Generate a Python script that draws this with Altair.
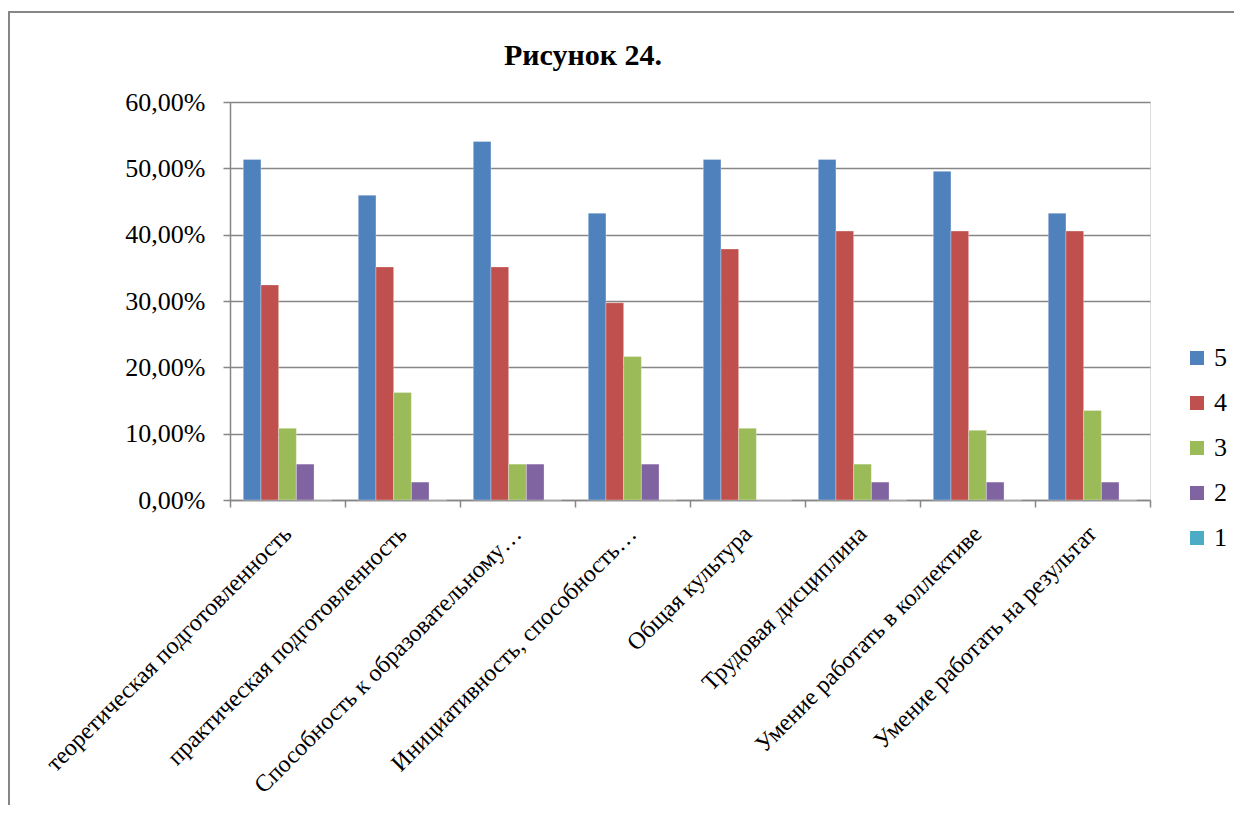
import altair as alt
import pandas as pd

title_text = "Рисунок 24."
categories = [
    "теоретическая подготовленность",
    "практическая подготовленность",
    "Способность к образовательному…",
    "Инициативность, способность…",
    "Общая культура",
    "Трудовая дисциплина",
    "Умение работать в коллективе",
    "Умение работать на результат",
]
series_names = ["5", "4", "3", "2", "1"]
s5 = [0.5135, 0.4595, 0.5405, 0.4324, 0.5135, 0.5135, 0.4955, 0.4324]
s4 = [0.3243, 0.3514, 0.3514, 0.2973, 0.3784, 0.4054, 0.4054, 0.4054]
s3 = [0.1081, 0.1622, 0.0541, 0.2162, 0.1081, 0.0541, 0.1050, 0.1351]
s2 = [0.0541, 0.0270, 0.0541, 0.0541, 0.0, 0.0270, 0.0270, 0.0270]
s1 = [0.0, 0.0, 0.0, 0.0, 0.0, 0.0, 0.0, 0.0]
y_ticks = [0, 0.1, 0.2, 0.3, 0.4, 0.5, 0.6]
colors = ["#4F81BD", "#C0504D", "#9BBB59", "#8064A2", "#4BACC6"]

rows = []
for name, vals in zip(series_names, [s5, s4, s3, s2, s1]):
    for c, v in zip(categories, vals):
        rows.append({"category": c, "series": name, "value": v})
df = pd.DataFrame(rows)

FONT = "Liberation Serif"
GRAY = "#868686"
FS = 26

bars = alt.Chart(df).mark_bar(stroke="white", strokeWidth=0.5, strokeOpacity=0.6).encode(
    x=alt.X("category:N", sort=categories, title=None,
            scale=alt.Scale(paddingInner=0, paddingOuter=0),
            axis=alt.Axis(labelAngle=-45, labelAlign="right", labelBaseline="middle",
                          labelFont=FONT, labelFontSize=24, labelColor="black",
                          labelPadding=23, labelLimit=0,
                          tickBand="extent", ticks=True, tickSize=7, tickColor=GRAY,
                          tickWidth=1.5, domainColor=GRAY, domainWidth=1.5, grid=False)),
    xOffset=alt.XOffset("series:N", sort=series_names,
                        scale=alt.Scale(paddingInner=0, paddingOuter=0.75)),
    y=alt.Y("value:Q", title=None,
            scale=alt.Scale(domain=[0, 0.6], nice=False),
            axis=alt.Axis(values=y_ticks,
                          labelExpr="replace(format(datum.value, '.2%'), '.', ',')",
                          labelFont=FONT, labelFontSize=FS, labelColor="black",
                          labelPadding=18, tickSize=7, tickColor=GRAY, tickWidth=1.5,
                          domainColor=GRAY, domainWidth=1.5,
                          grid=True, gridColor=GRAY, gridWidth=1.5)),
    color=alt.Color("series:N", sort=series_names,
                    scale=alt.Scale(domain=series_names, range=colors),
                    legend=alt.Legend(title=None, orient="none", legendX=954, legendY=243,
                                      symbolType="square", symbolSize=196,
                                      symbolStrokeWidth=0, labelFont=FONT,
                                      labelFontSize=FS, labelColor="black",
                                      rowPadding=19, labelOffset=4)),
)

border = alt.Chart(alt.Data(values=[{}])).mark_rect(
    fill=None, stroke=GRAY, strokeWidth=2
).encode(
    x=alt.value(-221), x2=alt.value(1100), y=alt.value(-90), y2=alt.value(800)
)

title = alt.Chart(alt.Data(values=[{"t": title_text}])).mark_text(
    font=FONT, fontSize=30, fontWeight="bold", color="black",
    align="center", baseline="alphabetic"
).encode(
    text="t:N", x=alt.value(353), y=alt.value(-37)
)

chart = alt.layer(border, bars, title).properties(
    width=920, height=398,
    autosize=alt.AutoSizeParams(type="none"),
    padding={"left": 222, "top": 94, "right": 84, "bottom": 305},
).configure_view(stroke=None).configure(background="white")

chart.save("out.html", embed_options={"renderer": "svg", "actions": False})
